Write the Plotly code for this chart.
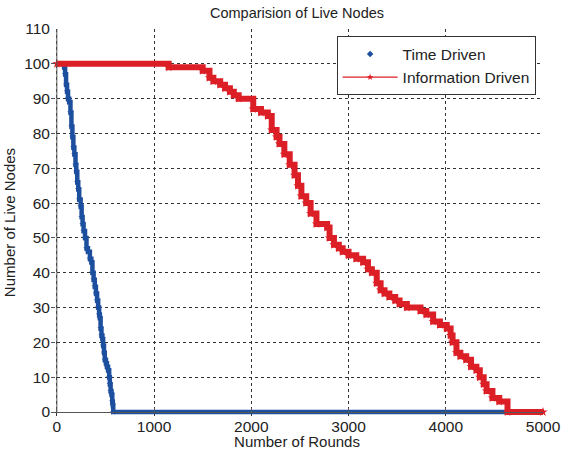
import plotly.graph_objects as go

# Time Driven: (round, live nodes) breakpoints of the step curve
td_rounds = [0, 75, 85, 95, 105, 115, 127, 140, 150, 160,
             170, 180, 192, 200, 210, 220, 230, 245, 255, 265,
             275, 290, 305, 320, 340, 355, 366, 378, 390, 402,
             414, 425, 435, 442, 450, 459, 468, 476, 485, 493,
             505, 515, 527, 538, 545, 553, 562, 570, 575, 580, 5000]
td_nodes = [100, 99, 97, 94, 92, 90, 89, 86, 82, 79,
            76, 74, 71, 69, 66, 64, 61, 59, 56, 54,
            52, 50, 47, 46, 44, 43, 40, 38, 36, 34,
            32, 30, 28, 27, 24, 22, 21, 19, 17, 15,
            14, 13, 12, 10, 8, 6, 5, 3, 2, 0, 0]

# Information Driven
id_rounds = [0, 1150, 1500, 1570, 1610, 1680, 1730, 1780, 1820, 1870,
             2020, 2100, 2170, 2210, 2260, 2290, 2340, 2395, 2445, 2480,
             2515, 2565, 2610, 2670, 2780, 2805, 2850, 2900, 2940, 3000,
             3080, 3150, 3200, 3240, 3290, 3330, 3370, 3420, 3480, 3525,
             3600, 3740, 3800, 3870, 3940, 4010, 4050, 4070, 4110, 4150,
             4210, 4260, 4315, 4350, 4390, 4420, 4480, 4550, 4635, 5000]
id_nodes = [100, 99, 98, 96, 95, 94, 93, 92, 91, 90,
            87, 86, 85, 81, 79, 77, 74, 71, 68, 65,
            62, 60, 57, 54, 53, 50, 48, 47, 46, 45,
            44, 43, 41, 40, 37, 35, 34, 33, 32, 31,
            30, 29, 28, 26, 25, 24, 22, 20, 17, 16,
            15, 13, 12, 10, 8, 6, 4, 3, 0, 0]

x_ticks = [0, 1000, 2000, 3000, 4000, 5000]
y_ticks = list(range(0, 111, 10))

BLUE = "#1d4f9f"
RED = "#dc1f26"
FONT = "Liberation Sans, Arial, sans-serif"

fig = go.Figure()
fig.add_trace(go.Scatter(x=td_rounds, y=td_nodes, mode="lines+markers",
                         line=dict(color=BLUE, width=4.5, shape="hv"),
                         marker=dict(color=BLUE, size=5, symbol="star"),
                         showlegend=False, cliponaxis=False))
fig.add_trace(go.Scatter(x=id_rounds, y=id_nodes, mode="lines+markers",
                         line=dict(color=RED, width=6, shape="hv"),
                         marker=dict(color=RED, size=7, symbol="star"),
                         showlegend=False, cliponaxis=False))
# legend entries
fig.add_trace(go.Scatter(x=[None], y=[None], mode="markers", name="Time Driven",
                         marker=dict(color=BLUE, size=5, symbol="diamond")))
fig.add_trace(go.Scatter(x=[None], y=[None], mode="lines+markers", name="Information Driven",
                         line=dict(color=RED, width=1.2),
                         marker=dict(color=RED, size=5, symbol="star")))

axis_common = dict(linecolor="#555", linewidth=1, mirror=False,
                   ticks="inside", ticklen=4, tickcolor="#555",
                   showgrid=True, gridcolor="#333", gridwidth=1, griddash="3px,3px",
                   zeroline=False, automargin=False,
                   tickfont=dict(size=15.5, color="#222", family=FONT),
                   title_font=dict(size=15, color="#222", family=FONT))

# plot area bottom extends slightly below 0 so the zero-level bands are not clipped;
# the x axis line is placed exactly at y=0
fig.update_xaxes(range=[-60, 5000], tickvals=x_ticks, title_text="Number of Rounds",
                 title_standoff=0, showline=True, anchor="free", position=0.0105,
                 **axis_common)
fig.update_yaxes(range=[-1.15, 110], tickvals=y_ticks, title_text="Number of Live Nodes",
                 title_standoff=4, showline=False, **axis_common)

fig.update_layout(
    width=561, height=450,
    margin=dict(l=51, r=18, t=29, b=34),
    paper_bgcolor="white", plot_bgcolor="white",
    font=dict(family=FONT, color="#222"),
    title=dict(text="Comparision of Live Nodes", x=0.5, xref="paper", y=0.972, yanchor="middle",
               font=dict(size=14.5, color="#222", family=FONT)),
    legend=dict(x=0.985, y=0.981, xanchor="right", yanchor="top",
                bgcolor="white", bordercolor="#333", borderwidth=1, itemwidth=55,
                font=dict(size=15.5, color="#222", family=FONT), tracegroupgap=0),
    shapes=[dict(type="line", xref="x", yref="paper", x0=0, x1=0, y0=0.0105, y1=1,
                 line=dict(color="#555", width=1), layer="above")],
)

fig.write_html("out.html")
